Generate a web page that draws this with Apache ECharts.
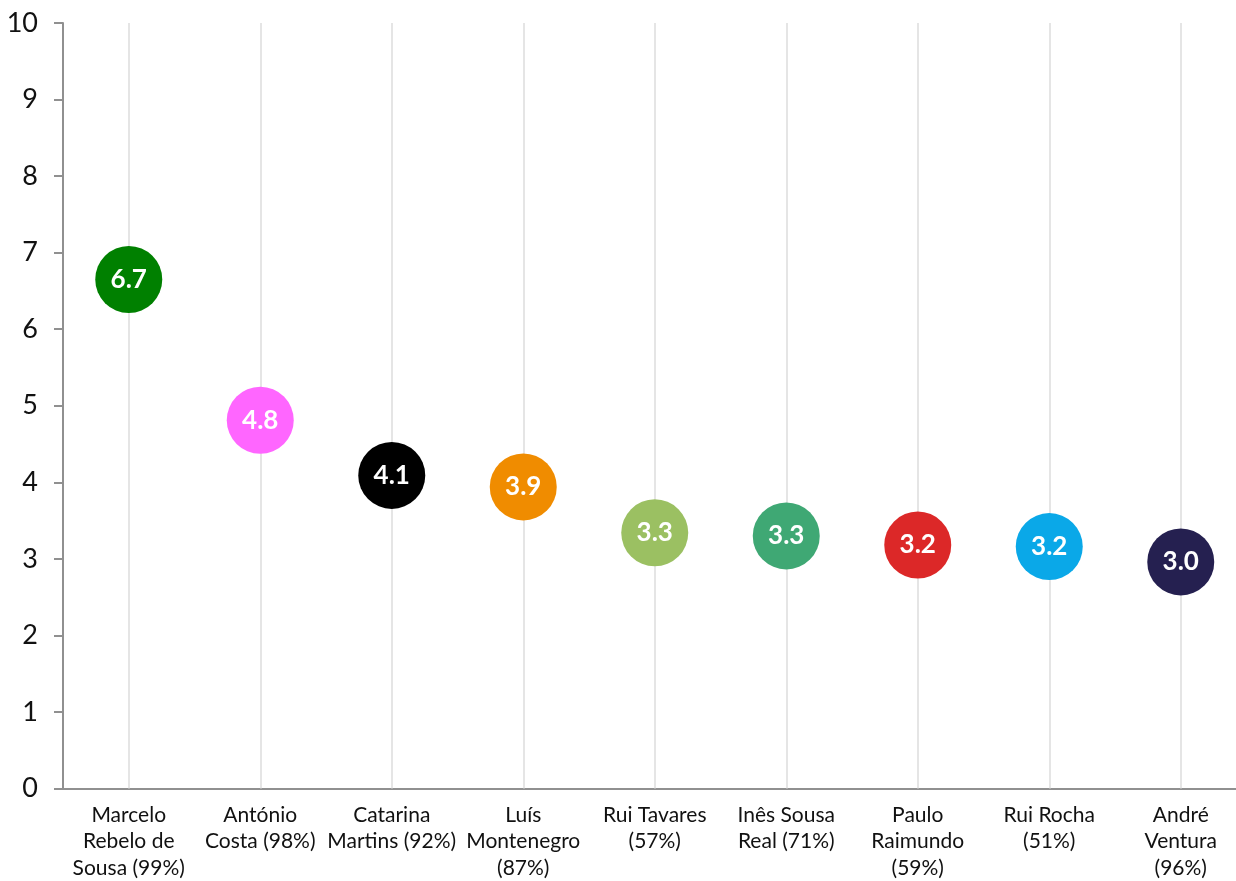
<!DOCTYPE html>
<html>
<head>
<meta charset="utf-8">
<script src="https://cdn.jsdelivr.net/npm/echarts@6/dist/echarts.min.js"></script>
<style>html,body{margin:0;padding:0;background:#fff;overflow:hidden}#c{width:1250px;height:881px}</style>
</head>
<body>
<div id="c"></div>
<script>
const categories = ["Marcelo\nRebelo de\nSousa (99%)", "António\nCosta (98%)", "Catarina\nMartins (92%)", "Luís\nMontenegro\n(87%)", "Rui Tavares\n(57%)", "Inês Sousa\nReal (71%)", "Paulo\nRaimundo\n(59%)", "Rui Rocha\n(51%)", "André\nVentura\n(96%)"];
const scores = [6.65, 4.81, 4.09, 3.94, 3.34, 3.30, 3.18, 3.16, 2.96];
const scoreLabels = ["6.7", "4.8", "4.1", "3.9", "3.3", "3.3", "3.2", "3.2", "3.0"];
const colors = ["#008000", "#ff66ff", "#000000", "#f08c00", "#9bc062", "#3fa874", "#dc2828", "#0aa8e8", "#252050"];
const yTicks = [0, 1, 2, 3, 4, 5, 6, 7, 8, 9, 10];

const chart = echarts.init(document.getElementById('c'));
chart.setOption({
  animation: false,
  grid: { left: 63, right: 3.5, top: 23, bottom: 86, containLabel: false },
  xAxis: {
    type: 'category',
    data: categories,
    axisLine: { lineStyle: { color: '#909090', width: 2 } },
    axisTick: { show: false },
    splitLine: { show: false },
    axisLabel: { interval: 0, fontFamily: 'Lato', fontSize: 21, color: '#111', lineHeight: 26.5, margin: 13 }
  },
  yAxis: {
    type: 'value',
    min: yTicks[0], max: yTicks[yTicks.length - 1], interval: 1,
    axisLine: { show: true, lineStyle: { color: '#909090', width: 2 } },
    axisTick: { show: true, length: 9, lineStyle: { color: '#909090', width: 2 } },
    splitLine: { show: false },
    axisLabel: { fontFamily: 'Lato', fontSize: 27, color: '#111', margin: 25 }
  },
  series: [{
    type: 'scatter',
    data: [],
    z: 1,
    markLine: {
      silent: true, symbol: 'none', label: { show: false },
      lineStyle: { color: '#dddddd', width: 1.5, type: 'solid' },
      data: categories.map(c => ({ xAxis: c }))
    }
  }, {
    type: 'scatter',
    symbolSize: 67,
    data: scores.map((v, i) => ({ value: v, itemStyle: { color: colors[i], opacity: 1 }, label: { formatter: scoreLabels[i] } })),
    label: { show: true, position: 'inside', color: '#fff', fontFamily: 'Lato', fontWeight: 'bold', fontSize: 26 },
    z: 5
  }]
});
</script>
</body>
</html>
